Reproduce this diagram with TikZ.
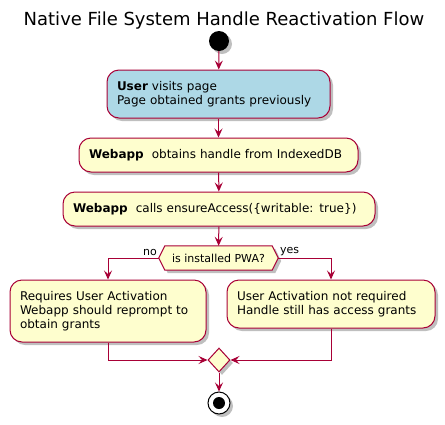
\documentclass[tikz,border=0pt]{standalone}
\usepackage{fontspec}
\setmainfont{DejaVu Sans}
\usepackage{tikz}
\usetikzlibrary{arrows.meta,shapes.geometric,shadows,backgrounds}

\definecolor{umlred}{HTML}{A80036}
\definecolor{umlbeige}{HTML}{FEFECE}
\definecolor{umlblue}{HTML}{ADD8E6}

\begin{document}
\begin{tikzpicture}[x=1pt,y=-1pt,
  umlshadow/.style={drop shadow={shadow xshift=3pt,shadow yshift=-3pt,opacity=0.25,fill=black}},
  act/.style={draw=umlred,fill=umlbeige,line width=1pt,rounded corners=12pt,align=left,
    inner xsep=10pt,inner ysep=0pt,font=\fontsize{12}{14}\selectfont,umlshadow},
  decision/.style={draw=umlred,fill=umlbeige,line width=1pt,umlshadow},
  flow/.style={draw=umlred,line width=1pt,-{Stealth[length=9pt,width=8pt,inset=3.5pt]}},
  lbl/.style={font=\fontsize{11}{13}\selectfont,inner sep=1.5pt},
  startdot/.style={circle,fill=black,minimum size=20pt,inner sep=0pt,umlshadow},
  stopdot/.style={circle,draw=black,fill=white,line width=1pt,minimum size=22pt,inner sep=0pt,umlshadow}]

%% canvas of 445 x 424, one unit is one pixel, y grows downwards
\useasboundingbox (0,0) rectangle (445,424);

\def\TikZHexInset{6pt} %% how far the side tips of the question box stick out

\node[font=\fontsize{18}{21}\selectfont] (title) at (224,21) {Native File System Handle Reactivation Flow};

\node[startdot] (start) at (219,41) {};

%% activities
\node[act,fill=umlblue,text width=203pt,minimum height=48pt] (visit) at (218.5,94)
  {\textbf{User} visits page\\Page obtained grants previously};
\node[act,text width=259pt,minimum height=34pt] (handle) at (218.5,155)
  {\textbf{Webapp}~ obtains handle from IndexedDB};
\node[act,text width=292pt,minimum height=34pt] (ensure) at (219,209)
  {\textbf{Webapp}~ calls ensureAccess(\{writable: true\})};

%% question
\node[inner sep=0pt,minimum width=119pt,minimum height=24pt,font=\fontsize{11}{13}\selectfont] (isPWA) at (218.5,258) {is installed PWA?};
\begin{scope}[on background layer]
\path[decision] (isPWA.west) -- ([xshift=\TikZHexInset]isPWA.north west) -- ([xshift=-\TikZHexInset]isPWA.north east)
  -- (isPWA.east) -- ([xshift=-\TikZHexInset]isPWA.south east) -- ([xshift=\TikZHexInset]isPWA.south west) -- cycle;
\end{scope}

\node[act,text width=176pt,minimum height=62pt] (reprompt) at (108,311)
  {Requires User Activation\\Webapp should reprompt to\\obtain grants};
\node[act,text width=188pt,minimum height=48pt] (granted) at (331,304)
  {User Activation not required\\Handle still has access grants};

\node[decision,diamond,minimum width=22pt,minimum height=24pt,inner sep=0pt] (merge) at (219,360) {};

\node[stopdot] (stop) at (219,403) {};
\fill (stop) circle (6);

%% connectors
\draw[flow] (start) -- (visit);
\draw[flow] (visit) -- (handle);
\draw[flow] (handle) -- (ensure);
\draw[flow] (ensure) -- (isPWA);
\draw[flow] (isPWA.west) -| node[lbl,pos=0,anchor=south east] {no} (reprompt);
\draw[flow] (isPWA.east) -| node[lbl,pos=0,anchor=south west] {yes} (granted);
\draw[flow] (reprompt) |- (merge);
\draw[flow] (granted) |- (merge);
\draw[flow] (merge) -- (stop);

\end{tikzpicture}
\end{document}
